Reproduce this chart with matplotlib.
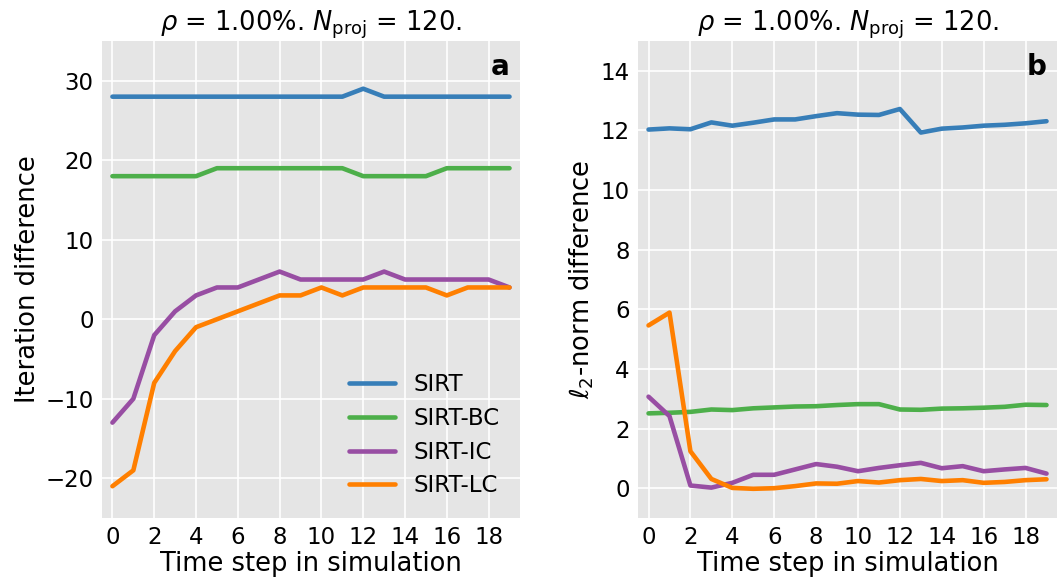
import numpy as np
import matplotlib
matplotlib.use('Agg')
import matplotlib.pyplot as plt

# time steps
steps = np.arange(20)

labels = ['SIRT', 'SIRT-BC', 'SIRT-IC', 'SIRT-LC']
colors = ['#377eb8', '#4daf4a', '#984ea3', '#ff7f00']

# (a) iteration difference
iter_sirt = [28, 28, 28, 28, 28, 28, 28, 28, 28, 28, 28, 28, 29, 28, 28, 28, 28, 28, 28, 28]
iter_bc = [18, 18, 18, 18, 18, 19, 19, 19, 19, 19, 19, 19, 18, 18, 18, 18, 19, 19, 19, 19]
iter_ic = [-13, -10, -2, 1, 3, 4, 4, 5, 6, 5, 5, 5, 5, 6, 5, 5, 5, 5, 5, 4]
iter_lc = [-21, -19, -8, -4, -1, 0, 1, 2, 3, 3, 4, 3, 4, 4, 4, 4, 3, 4, 4, 4]

# (b) l2-norm difference
norm_sirt = [12.03, 12.07, 12.04, 12.27, 12.16, 12.26, 12.37, 12.37, 12.48, 12.58,
             12.53, 12.52, 12.72, 11.93, 12.06, 12.10, 12.16, 12.19, 12.24, 12.31]
norm_bc = [2.51, 2.53, 2.56, 2.64, 2.62, 2.68, 2.71, 2.74, 2.75, 2.79,
           2.82, 2.82, 2.64, 2.63, 2.67, 2.68, 2.70, 2.73, 2.80, 2.79]
norm_ic = [3.07, 2.42, 0.09, 0.02, 0.18, 0.45, 0.45, 0.63, 0.81, 0.72,
           0.57, 0.68, 0.77, 0.85, 0.67, 0.74, 0.57, 0.63, 0.68, 0.49]
norm_lc = [5.46, 5.89, 1.24, 0.31, 0.01, -0.02, 0.0, 0.07, 0.16, 0.15,
           0.24, 0.19, 0.27, 0.31, 0.24, 0.27, 0.18, 0.21, 0.27, 0.30]

plt.rcParams['font.size'] = 16.5
plt.rcParams['mathtext.fontset'] = 'dejavusans'

fig = plt.figure(figsize=(10.59, 5.81), dpi=100)
ax_a = fig.add_axes([0.0963, 0.1084, 0.3947, 0.821])
ax_b = fig.add_axes([0.6025, 0.1084, 0.3956, 0.821])

title = r'$\rho$ = 1.00%. $N_\mathrm{proj}$ = 120.'

for ax, series, ylabel, tag in [
        (ax_a, [iter_sirt, iter_bc, iter_ic, iter_lc], 'Iteration difference', 'a'),
        (ax_b, [norm_sirt, norm_bc, norm_ic, norm_lc], r'$\ell_2$-norm difference', 'b')]:
    ax.set_facecolor('#e5e5e5')
    for vals, lab, col in zip(series, labels, colors):
        ax.plot(steps, vals, color=col, lw=3.3, label=lab, solid_capstyle='round')
    for s in ax.spines.values():
        s.set_visible(False)
    ax.grid(True, color='white', lw=1.2)
    ax.set_axisbelow(True)
    ax.tick_params(length=0, pad=6)
    ax.set_xticks(np.arange(0, 19, 2))
    ax.set_xlim(-0.5, 19.5)
    ax.set_xlabel('Time step in simulation', fontsize=18.5, labelpad=1)
    ax.set_ylabel(ylabel, fontsize=18.5, labelpad=3)
    ax.set_title(title, fontsize=18.5, pad=6)
    ax.text(0.975, 0.975, tag, transform=ax.transAxes, ha='right', va='top',
            fontweight='bold', fontsize=20)

ax_a.set_ylim(-25, 35)
ax_a.set_yticks([-20, -10, 0, 10, 20, 30])
ax_b.set_ylim(-1, 15)
ax_b.set_yticks(np.arange(0, 15, 2))

ax_a.legend(loc='lower right', frameon=False, handlelength=2.0,
            labelspacing=0.47, bbox_to_anchor=(1.0, 0.0))

fig.savefig('out.png', dpi=100)
